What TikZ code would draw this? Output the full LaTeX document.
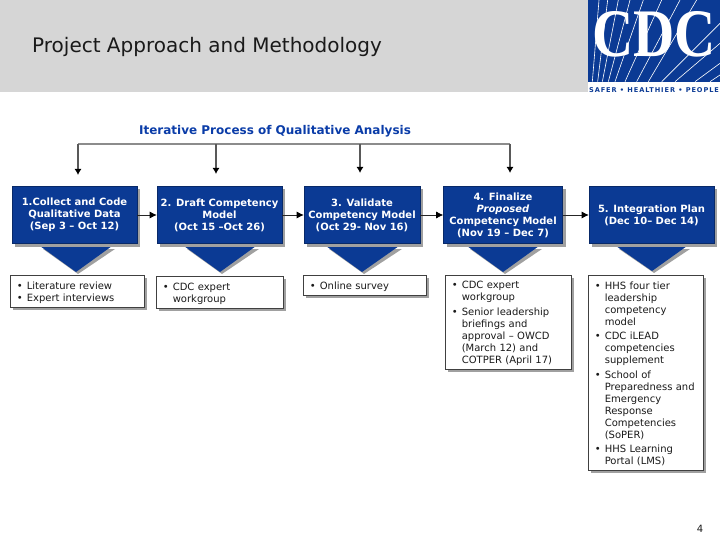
\documentclass[tikz,border=0pt]{standalone}
\usepackage{fontspec}
\setmainfont{DejaVu Sans}
\newfontfamily\logofont{Liberation Serif}
\newfontfamily\tagfont[LetterSpace=14]{DejaVu Sans}
\usetikzlibrary{shadows,arrows.meta}
\definecolor{cdcblue}{HTML}{0B3A94}
\definecolor{titleblue}{HTML}{0A3CA8}
\definecolor{band}{HTML}{D6D6D6}
\definecolor{shade}{HTML}{A0A0A0}
\definecolor{ink}{HTML}{1A1A1A}
\tikzset{
  x=1pt,y=-1pt,
  stepbox/.style={fill=cdcblue,draw=cdcblue!70!black,line width=.6pt,text=white,align=center,
    font=\fontsize{10}{12}\selectfont\bfseries,inner sep=0pt,
    general shadow={fill=shade,shadow xshift=3pt,shadow yshift=-3pt}},
  listbox/.style={fill=white,draw=black!75,line width=.6pt,text=ink,align=left,anchor=north west,
    font=\fontsize{10}{12}\selectfont,inner ysep=0pt,inner xsep=6.5pt,
    general shadow={fill=shade,shadow xshift=3pt,shadow yshift=-3pt}},
  flow/.style={draw=black!85,line width=.7pt,-{Latex[length=7pt,width=7pt,black]}},
  feed/.style={draw=black!45,line width=1.1pt},
  feedarrow/.style={draw=black!65,line width=1.1pt,-{Latex[length=6pt,width=7pt,black]}},
  wedge/.style={fill=cdcblue},
  wedgeshade/.style={fill=shade},
}
\newcommand{\bul}{\rule{0pt}{9.5pt}\makebox[10pt][l]{•}}
\newcommand{\cont}{\hspace*{10pt}}
\begin{document}
\begin{tikzpicture}
\useasboundingbox (0,0) rectangle (720,540);
% header
\fill[band] (0,0) rectangle (720,92);
\node[anchor=west,font=\fontsize{20}{24}\selectfont,text=ink,inner sep=0pt] (title) at (32,46.5) {Project Approach and Methodology};
% logo
\fill[white] (588,82) rectangle (720,92);
\fill[cdcblue] (588,0) rectangle (720,82);
\begin{scope}[draw=white,line width=.6pt]
\clip (588,0) rectangle (720,82);
\foreach \a/\b/\c in {22/42/0,38/68/0,52/100/0,70/135/0,90/175/0,120/230/0,155/285/0,190/335/0,230/405/70,270/405/130,330/405/190,375/405/225}{
  \draw (585+\a/3,245/3) -- (585+\b/3,\c/3);
}
\end{scope}
\node[font=\logofont\bfseries\fontsize{68}{68}\selectfont,text=white,inner sep=0pt,xscale=.84] (cdc) at (654,34) {CDC};
\node[font=\tagfont\fontsize{6.6}{7}\selectfont\bfseries,text=cdcblue,inner sep=0pt] (tag) at (654,90) {SAFER • HEALTHIER • PEOPLE};
% heading
\node[font=\fontsize{12}{14}\selectfont\bfseries,text=titleblue,inner sep=0pt] (head) at (275,131.5) {Iterative Process of Qualitative Analysis};
% feedback
\coordinate (t1) at (78,144);\coordinate (t2) at (216,144);\coordinate (t3) at (360,144);\coordinate (t4) at (510,144);
\coordinate (e1) at (78,175);\coordinate (e2) at (216,174);\coordinate (e3) at (360,173);\coordinate (e4) at (510,173);
\draw[feed] (t1) -- (t4);
\foreach \i in {1,...,4}{\draw[feedarrow] (t\i) -- (e\i);}
% wedges
\foreach \l/\r/\m/\b in {40/112/76/272,184/256/220/272,326/399/362/272,467/539/503/272,616/687/652/271}{
  \fill[wedgeshade] (\l+3,249) -- (\r+3,249) -- (\m+2,\b+2) -- cycle;
  \fill[wedge] (\l,246) -- (\r,246) -- (\m,\b) -- cycle;
}
% steps
\node[stepbox,minimum width=125pt,minimum height=57pt] (s1) at (74.5,215) {1.Collect and Code\\Qualitative Data\\(Sep 3 – Oct 12)};
\node[stepbox,minimum width=125pt,minimum height=57pt] (s2) at (219.5,215) {2. Draft Competency\\Model\\(Oct 15 –Oct 26)};
\node[stepbox,minimum width=116pt,minimum height=57pt] (s3) at (362,215) {3. Validate\\Competency Model\\(Oct 29- Nov 16)};
\node[stepbox,minimum width=119pt,minimum height=57pt] (s4) at (503,215) {4. Finalize\\\textit{Proposed}\\Competency Model\\(Nov 19 – Dec 7)};
\node[stepbox,minimum width=125pt,minimum height=57pt] (s5) at (651.5,215) {5. Integration Plan\\(Dec 10– Dec 14)};
\draw[flow] (s1) -- (s2);
\draw[flow] (s2) -- (s3);
\draw[flow] (s3) -- (s4);
\draw[flow] (s4) -- (s5);
% lists
\node[listbox,minimum width=134pt,minimum height=32pt,text width=121pt] (l1) at (10,275) {\bul Literature review\\\bul Expert interviews};
\node[listbox,minimum width=127pt,minimum height=32pt,text width=114pt] (l2) at (156,276) {\bul CDC expert\\\cont workgroup};
\node[listbox,minimum width=123pt,minimum height=20pt,text width=110pt] (l3) at (303,275) {\bul Online survey};
\node[listbox,minimum width=126pt,minimum height=94pt,text width=113pt] (l4) at (445,275) {\bul CDC expert\\\cont workgroup\\[3pt]\bul Senior leadership\\\cont briefings and\\\cont approval – OWCD\\\cont (March 12) and\\\cont COTPER (April 17)};
\node[listbox,minimum width=115pt,minimum height=195pt,text width=102pt] (l5) at (588,275) {\bul HHS four tier\\\cont leadership\\\cont competency\\\cont model\\[2.4pt]\bul CDC iLEAD\\\cont competencies\\\cont supplement\\[2.4pt]\bul School of\\\cont Preparedness and\\\cont Emergency\\\cont Response\\\cont Competencies\\\cont (SoPER)\\[2.4pt]\bul HHS Learning\\\cont Portal (LMS)};
\node[font=\fontsize{10}{12}\selectfont,text=ink,inner sep=0pt] (page) at (700,529) {4};
\end{tikzpicture}
\end{document}
